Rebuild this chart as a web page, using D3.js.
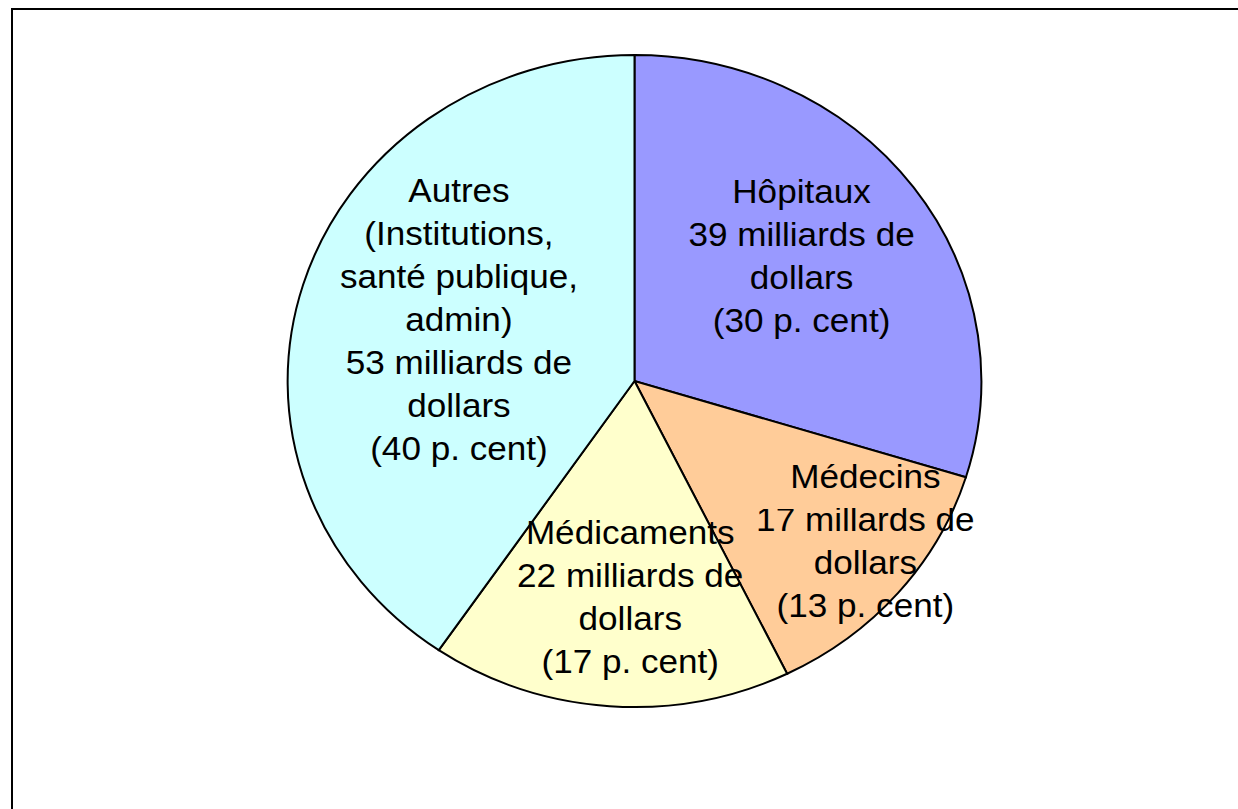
<!DOCTYPE html>
<html>
<head>
<meta charset="utf-8">
<script src="https://cdn.jsdelivr.net/npm/d3@7"></script>
<style>
  body { margin: 0; background: #fff; }
  svg { display: block; }
  text { font-family: "Liberation Sans", Arial, sans-serif; }
</style>
</head>
<body>
<div id="chart"></div>
<script>
// dépenses de santé, milliards de dollars
var categories = ["Hôpitaux", "Médecins", "Médicaments", "Autres"];
var values = [39, 17, 22, 53];
var percents = [30, 13, 17, 40];
var colors = ["#9999ff", "#ffcc99", "#ffffcc", "#ccffff"];
var labelLines = [
    ["Hôpitaux", "39 milliards de", "dollars", "(30 p. cent)"],
    ["Médecins", "17 millards de", "dollars", "(13 p. cent)"],
    ["Médicaments", "22 milliards de", "dollars", "(17 p. cent)"],
    ["Autres", "(Institutions,", "santé publique,", "admin)", "53 milliards de", "dollars", "(40 p. cent)"]
];

var w = 1238, h = 809;
var cx = 634.5, cy = 381, r = 326, sx = 1.064;
// label block centres, in pie coords (before x stretch)
var labelAt = [[157, -126], [217, 160], [-4, 216], [-165, -62]];
var lineH = 43;

var svg = d3.select("#chart").append("svg")
    .attr("width", w)
    .attr("height", h);

// frame
svg.append("rect").attr("x", 12).attr("y", 9)
    .attr("width", w + 20).attr("height", h + 20)
    .attr("fill", "none").attr("stroke", "#000").attr("stroke-width", 2);

var g = svg.append("g")
    .attr("transform", "translate(" + cx + "," + cy + ") scale(" + sx + ",1)");

var pie = d3.pie().sort(null).value(function(d) { return d; });
var arc = d3.arc().innerRadius(0).outerRadius(r);
var arcs = pie(values);

g.selectAll("path.slice").data(arcs).enter().append("path")
    .attr("class", "slice")
    .attr("d", arc)
    .attr("fill", function(d, i) { return colors[i]; })
    .attr("stroke", "#000")
    .attr("stroke-width", 2)
    .attr("vector-effect", "non-scaling-stroke");

// labels
arcs.forEach(function(d, i) {
    var lines = labelLines[i];
    var p = labelAt[i];
    var y0 = p[1] - (lines.length - 1) * lineH / 2 + 12;
    var t = g.append("text")
        .attr("text-anchor", "middle")
        .attr("font-size", "33px")
        .attr("fill", "#000");
    lines.forEach(function(s, k) {
        t.append("tspan").attr("x", p[0]).attr("y", y0 + k * lineH).text(s);
    });
});
</script>
</body>
</html>
